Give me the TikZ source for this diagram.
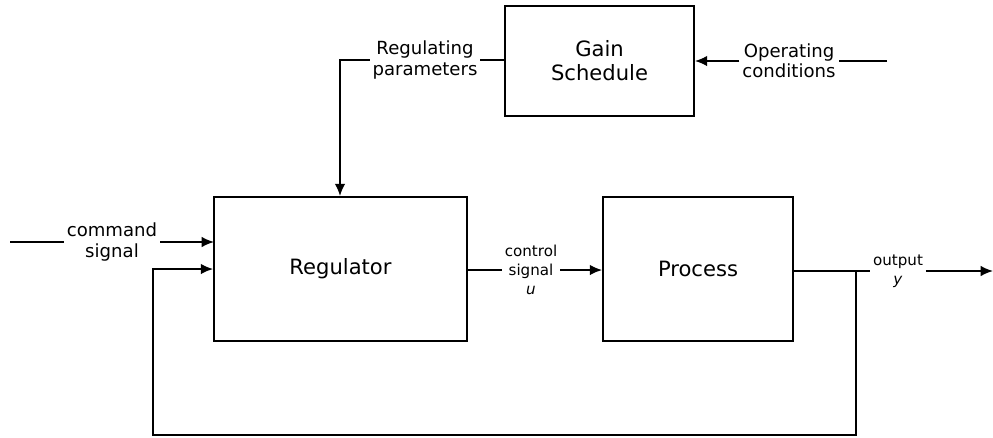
\documentclass[tikz,border=0pt]{standalone}
\usepackage{fontspec}
\setmainfont{DejaVu Sans}
\usetikzlibrary{arrows.meta}
\begin{document}
\begin{tikzpicture}[x=0.02cm,y=-0.02cm,
  blk/.style={draw,line width=1pt,inner sep=0pt,align=center,font=\fontsize{12}{13.6}\selectfont},
  lbl/.style={inner sep=1.5pt,align=center,font=\fontsize{10.3}{11.5}\selectfont},
  slbl/.style={inner sep=1.5pt,align=center,font=\fontsize{8.6}{11}\selectfont},
  wire/.style={line width=1pt},
  arr/.style={wire,-{Latex[length=7pt,width=6pt]}}]
\useasboundingbox (0,0) rectangle (993,437);
% blocks
\node[blk,minimum width=3.78cm,minimum height=2.2cm] (gain) at (599.5,61) {Gain\\Schedule};
\node[blk,minimum width=5.06cm,minimum height=2.88cm] (reg) at (340.5,269) {Regulator};
\node[blk,minimum width=3.8cm,minimum height=2.88cm] (proc) at (698,269) {Process};
% labels
\node[lbl] (rp) at (425,60) {Regulating\\parameters};
\node[lbl] (oc) at (789,61) {Operating\\conditions};
\node[lbl] (cmd) at (112,242) {command\\signal};
\node[slbl] (cs) at (531,270) {control\\signal\\\textit{u}};
\node[slbl] (out) at (898,271) {output\\\textit{y}};
% coordinates
\coordinate (rpc) at (340,60);
\coordinate (ocs) at (887,61);
\coordinate (cmds) at (10,242);
\coordinate (cmdin) at (214,242);
\coordinate (tap) at (856,271);
\coordinate (fbl) at (153,435);
\coordinate (outend) at (993,271);
% connectors
\draw[wire] (gain.west |- rp.east) -- (rp.east);
\draw[arr] (rp.west) -- (rpc) -- (rpc |- reg.north);
\draw[wire] (ocs) -- (oc.east);
\draw[arr] (oc.west) -- (gain.east |- oc.west);
\draw[wire] (cmds) -- (cmd.west);
\draw[arr] (cmd.east) -- (cmdin);
\draw[wire] (reg.east |- cs.west) -- (cs.west);
\draw[arr] (cs.east) -- (proc.west |- cs.east);
\draw[wire] (proc.east |- out.west) -- (out.west);
\draw[arr] (out.east) -- (outend);
\draw[arr] (tap) -- (tap |- fbl) -- (fbl) -- (fbl |- reg.west) -- (reg.west);
\end{tikzpicture}
\end{document}
